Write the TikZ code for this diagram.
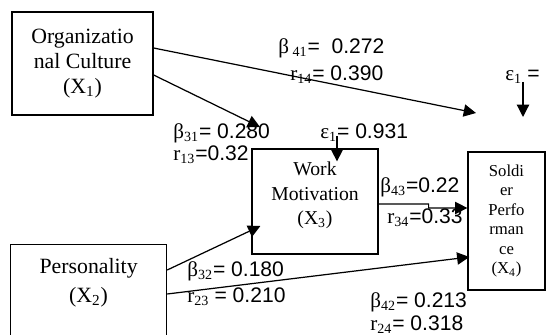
\documentclass[tikz,border=0pt]{standalone}
\usepackage{fontspec}
\setmainfont{Liberation Serif}
\setsansfont{Liberation Sans}
\usepackage{tikz}
\usetikzlibrary{positioning,arrows.meta,calc}

\begin{document}
\begin{tikzpicture}[
  varbox/.style={draw, fill=white, line width=0.7pt, inner sep=0pt, align=center},
  path/.style={draw, line width=0.7pt, -{Triangle[length=7pt,width=7pt]}},
  coef/.style={anchor=west, inner sep=0pt, font=\fontsize{12}{14}\selectfont}
]
  \useasboundingbox (0,0) rectangle (10.94,6.7);

  % Coefficients (boxes come later and cover their ends)
  \node[coef] (b41) at (5.56,5.74) {β\,\textsubscript{41}\textsf{=\ \ 0.272}};
  \node[coef] (r14) at (5.80,5.20) {r\textsubscript{14}\textsf{= 0.390}};
  \node[coef] (b31) at (3.46,4.04) {β\textsubscript{31}\textsf{= 0.280}};
  \node[coef] (r13) at (3.46,3.60) {r\textsubscript{13}\textsf{=0.32}};
  \node[coef] (e2)  at (6.40,4.04) {ε\textsubscript{1}\textsf{= 0.931}};
  \node[coef] (b43) at (7.60,2.96) {β\textsubscript{43}\textsf{=0.22}};
  \node[coef] (r34) at (7.74,2.34) {r\textsubscript{34}\textsf{=0.33}};
  \node[coef] (b32) at (3.74,1.28) {β\textsubscript{32}\textsf{= 0.180}};
  \node[coef] (r23) at (3.74,0.76) {r\textsubscript{23} \textsf{= 0.210}};
  \node[coef] (b42) at (7.40,0.66) {β\textsubscript{42}\textsf{= 0.213}};
  \node[coef] (r24) at (7.40,0.20) {r\textsubscript{24}\textsf{= 0.318}};
  \node[coef] (e1)  at (10.10,5.16) {ε\textsubscript{1} \textsf{=}};

  % Variables
  \node[varbox, minimum width=2.82cm, minimum height=2.06cm,
        font=\fontsize{12.4}{14.2}\selectfont] (x1) at (1.65,5.43)
        {Organizatio\\nal Culture\\(X\textsubscript{1})};
  \node[varbox, minimum width=3.12cm, minimum height=2.1cm, anchor=north west] (x2) at (0.20,1.82) {};
  \node[align=center, inner sep=0pt, anchor=north, font=\fontsize{12.4}{16.5}\selectfont]
        (x2txt) at ([yshift=-0.28cm]x2.north) {Personality\\(X\textsubscript{2})};
  \node[varbox, minimum width=2.52cm, minimum height=2.1cm] (x3) at (6.30,2.67) {};
  \node[align=center, inner sep=0pt, font=\fontsize{11.2}{13.9}\selectfont]
        (x3txt) at ([yshift=0.12cm]x3.center) {Work\\Motivation\\(X\textsubscript{3})};
  \node[varbox, minimum width=1.54cm, minimum height=2.76cm,
        font=\fontsize{9.5}{11.1}\selectfont] (x4) at (10.13,2.28)
        {Soldi\\er\\Perfo\\rman\\ce\\(X\textsubscript{4})};

  % Free ends
  \coordinate (p41) at (9.52,4.44);
  \coordinate (p31) at (5.20,4.16);
  \coordinate (e1top) at (10.46,5.06);
  \coordinate (e1end) at (10.46,4.36);
  \coordinate (e2top) at (6.74,3.98);

  % Paths
  \draw[path] ([yshift=0.31cm]x1.east) -- (p41);
  \draw[path] ([yshift=-0.23cm]x1.east) -- (p31);
  \draw[path] ([yshift=-0.52cm]x2.north east) -- ([shift={(0.18,-0.49)}]x3.west);
  \draw[path] ([yshift=-1.0cm]x2.north east) -- ([shift={(0.04,-0.72)}]x4.west);
  \draw[path] ([yshift=-0.05cm]x3.east) -- ++(1.0,0) -- ++(0,-0.08) -- ([yshift=0.26cm]x4.west);
  \draw[path] (e2top) -- ([shift={(0.44,-0.26)}]x3.north);
  \draw[path] (e1top) -- (e1end);
\end{tikzpicture}
\end{document}
